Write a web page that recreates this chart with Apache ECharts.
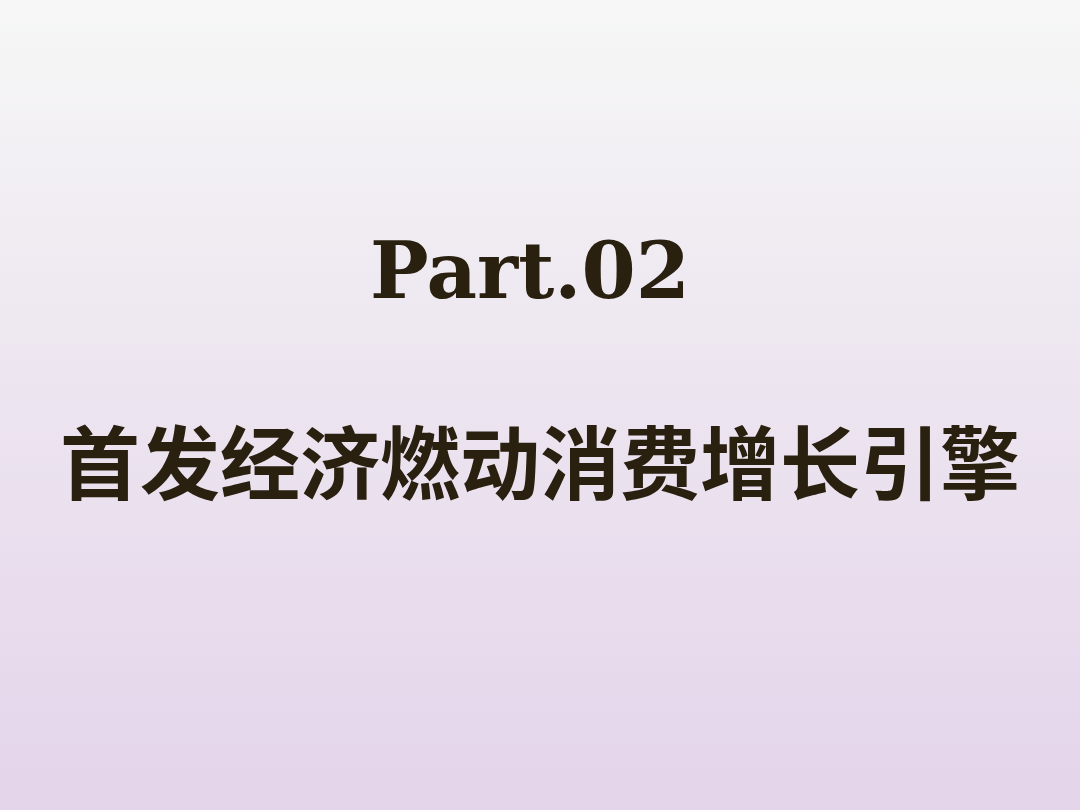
<!DOCTYPE html>
<html>
<head>
<meta charset="utf-8">
<script src="https://cdn.jsdelivr.net/npm/echarts@6/dist/echarts.min.js"></script>
<style>html,body{margin:0;padding:0;}#c{width:1080px;height:810px;}</style>
</head>
<body>
<div id="c"></div>
<script>
var partLabel = ['Part.02'];
var subtitleLabel = ['首发经济燃动消费增长引擎'];

var chart = echarts.init(document.getElementById('c'));
chart.setOption({
  backgroundColor: new echarts.graphic.LinearGradient(0, 0, 0, 1, [
    {offset: 0, color: '#f6f7f6'},
    {offset: 0.45, color: '#ede6f0'},
    {offset: 1, color: '#e4d4ea'}
  ]),
  title: [
    {
      text: partLabel[0],
      left: 365,
      top: 234,
      textStyle: {fontFamily: 'DejaVu Serif', fontWeight: 'bold', fontSize: 78, color: '#2a2010'}
    },
    {
      text: subtitleLabel[0],
      left: 'center',
      top: 418,
      textStyle: {fontFamily: 'Noto Sans CJK SC', fontWeight: 'bold', fontSize: 80, color: '#2a2010'}
    }
  ]
});
</script>
</body>
</html>
